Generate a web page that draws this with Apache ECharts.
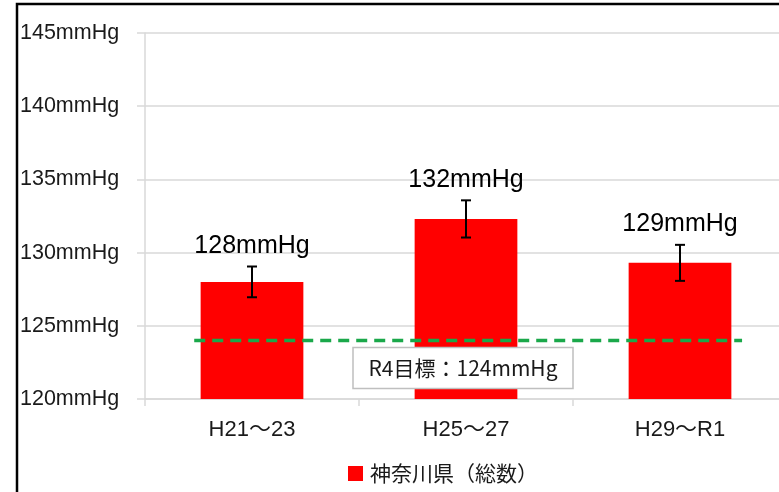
<!DOCTYPE html>
<html>
<head>
<meta charset="utf-8">
<script src="https://cdn.jsdelivr.net/npm/echarts@6/dist/echarts.min.js"></script>
<style>
html,body{margin:0;padding:0;background:#fff;overflow:hidden;width:779px;height:492px;}
#c{width:800px;height:492px;}
</style>
</head>
<body>
<div id="c"></div>
<script>
const categories = ['H21～23', 'H25～27', 'H29～R1'];
const seriesName = '神奈川県（総数）';
const values = [128.0, 132.3, 129.3];
const errors = [1.05, 1.27, 1.23];
const valueLabels = ['128mmHg', '132mmHg', '129mmHg'];
const target = 124;
const targetLabel = 'R4目標：124mmHg';
const yMin = 120, yMax = 145, yStep = 5;

const chart = echarts.init(document.getElementById('c'), null, {renderer: 'canvas'});
const latin = '"Liberation Sans", Arial, "Noto Sans CJK JP", sans-serif';
const jp = '"Noto Sans CJK JP", "Liberation Sans", sans-serif';

const errData = values.map((v, i) => [i, v, errors[i], valueLabels[i]]);

chart.setOption({
  animation: false,
  backgroundColor: '#fff',
  graphic: [{
    type: 'polyline',
    shape: {points: [[17, 492], [17, 4], [800, 4]]},
    style: {stroke: '#000', lineWidth: 2.5, fill: null},
    z: 100
  }],
  grid: {left: 145, top: 33, width: 642, height: 366, containLabel: false},
  legend: {
    data: [seriesName],
    left: 348, top: 463, padding: 0,
    itemWidth: 15, itemHeight: 15, itemGap: 10,
    icon: 'rect',
    textStyle: {fontFamily: jp, fontSize: 21, color: '#1a1a1a', padding: [0, 0, 0, 2]}
  },
  xAxis: {
    type: 'category',
    data: categories,
    axisLine: {lineStyle: {color: '#d9d9d9', width: 1.5}},
    axisTick: {show: true, length: 7, lineStyle: {color: '#d9d9d9', width: 1.5}},
    axisLabel: {fontFamily: latin, fontSize: 22, color: '#1a1a1a', margin: 20}
  },
  yAxis: {
    type: 'value',
    min: yMin, max: yMax, interval: yStep,
    axisLine: {show: true, lineStyle: {color: '#d9d9d9', width: 1.5}},
    axisTick: {show: true, length: 8, lineStyle: {color: '#d9d9d9', width: 1.5}},
    splitLine: {lineStyle: {color: '#d9d9d9', width: 1.5}},
    axisLabel: {
      fontFamily: latin, fontSize: 21.5, color: '#1a1a1a',
      align: 'left', margin: 125,
      formatter: v => v + 'mmHg'
    }
  },
  series: [
    {
      name: seriesName,
      type: 'bar',
      data: values,
      barWidth: '48%',
      itemStyle: {color: '#ff0000'},
      z: 2
    },
    {
      name: 'target',
      type: 'custom',
      data: [[0, target]],
      z: 3,
      renderItem: function (params, api) {
        const band = api.size([1, 0])[0];
        const p0 = api.coord([0, api.value(1)]);
        const p2 = api.coord([categories.length - 1, api.value(1)]);
        const x0 = p0[0] - band * 0.27;
        const x1 = p2[0] + band * 0.29;
        const pc = api.coord([1, api.value(1)]);
        return {
          type: 'group',
          children: [
            {
              type: 'line',
              shape: {x1: x0, y1: p0[1], x2: x1, y2: p0[1]},
              style: {stroke: '#1aa84a', lineWidth: 3.5, lineDash: [11, 7]}
            },
            {
              type: 'rect',
              shape: {x: pc[0] - 113, y: p0[1] + 7, width: 220, height: 41},
              style: {fill: '#fff', stroke: '#bfbfbf', lineWidth: 1.5}
            },
            {
              type: 'text',
              style: {
                x: pc[0] - 3, y: p0[1] + 28, text: targetLabel,
                fontFamily: jp, fontSize: 21, fill: '#1a1a1a',
                align: 'center', verticalAlign: 'middle'
              }
            }
          ]
        };
      }
    },
    {
      name: 'error',
      type: 'custom',
      data: errData,
      z: 4,
      renderItem: function (params, api) {
        const i = api.value(0), v = api.value(1), e = api.value(2);
        const top = api.coord([i, v + e]);
        const bot = api.coord([i, v - e]);
        const cap = 5;
        return {
          type: 'group',
          children: [
            {type: 'line', shape: {x1: top[0], y1: top[1], x2: bot[0], y2: bot[1]}, style: {stroke: '#000', lineWidth: 2}},
            {type: 'line', shape: {x1: top[0] - cap, y1: top[1], x2: top[0] + cap, y2: top[1]}, style: {stroke: '#000', lineWidth: 2}},
            {type: 'line', shape: {x1: bot[0] - cap, y1: bot[1], x2: bot[0] + cap, y2: bot[1]}, style: {stroke: '#000', lineWidth: 2}},
            {
              type: 'text',
              style: {
                x: top[0], y: top[1] - 8, text: valueLabels[params.dataIndex],
                fontFamily: latin, fontSize: 25, fill: '#000',
                align: 'center', verticalAlign: 'bottom'
              }
            }
          ]
        };
      }
    }
  ]
});
</script>
</body>
</html>
